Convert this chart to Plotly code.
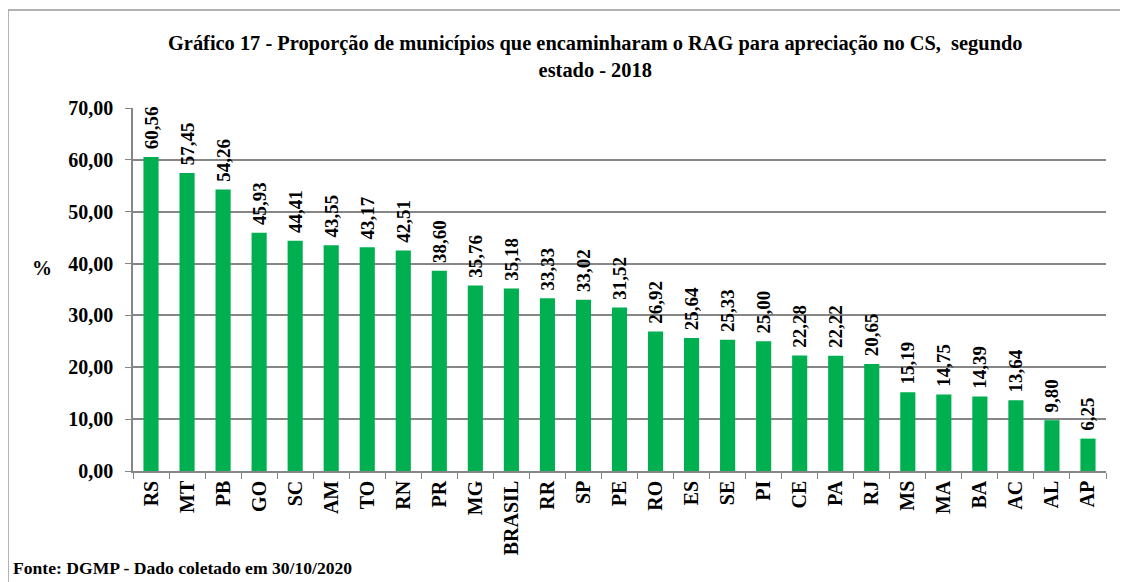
import plotly.graph_objects as go

estados = ["RS", "MT", "PB", "GO", "SC", "AM", "TO", "RN", "PR", "MG", "BRASIL",
           "RR", "SP", "PE", "RO", "ES", "SE", "PI", "CE", "PA", "RJ", "MS",
           "MA", "BA", "AC", "AL", "AP"]
proporcao = [60.56, 57.45, 54.26, 45.93, 44.41, 43.55, 43.17, 42.51, 38.60, 35.76, 35.18,
             33.33, 33.02, 31.52, 26.92, 25.64, 25.33, 25.00, 22.28, 22.22, 20.65, 15.19,
             14.75, 14.39, 13.64, 9.80, 6.25]
y_ticks = [0, 10, 20, 30, 40, 50, 60, 70]
y_labels = ["0,00", "10,00", "20,00", "30,00", "40,00", "50,00", "60,00", "70,00"]

serif = "Liberation Serif, Times New Roman, serif"
# a pagina tem margem de 8px no body, entao desconto isso
OFF = 8
W, H = 1128 - OFF, 582 - OFF
L, T = 133 - OFF, 108 - OFF
R = W - (1106 - OFF)
B = H - (471 - OFF)


def px(x):
    return (x - OFF - L) / (W - L - R)


def py(y):
    return (H - B - (y - OFF)) / (H - T - B)


fig = go.Figure()
fig.add_trace(go.Bar(x=estados, y=proporcao,
                     marker=dict(color="#00B050", line=dict(width=0)),
                     texttemplate="&nbsp;<b>%{y:.2f}</b>",
                     textposition="outside",
                     textangle=-90,
                     constraintext="none",
                     textfont=dict(family=serif, size=19, color="black"),
                     cliponaxis=False,
                     showlegend=False))

fig.update_layout(
    width=W, height=H,
    margin=dict(l=L, r=R, t=T, b=B, autoexpand=False),
    separators=",.",
    plot_bgcolor="white", paper_bgcolor="white",
    bargap=0.58,
    font=dict(family=serif, color="black"),
    xaxis=dict(tickangle=-90, tickfont=dict(family=serif, size=20, color="black"),
               tickvals=estados, ticktext=["<b>%s</b>" % e for e in estados],
               showline=True, linecolor="#868686", linewidth=1.5,
               ticks="outside", tickson="boundaries", ticklen=6, tickcolor="#868686"),
    yaxis=dict(range=[0, 70], tickvals=y_ticks, ticktext=["<b>%s</b>" % t for t in y_labels],
               tickfont=dict(family=serif, size=20, color="black"),
               ticklabelstandoff=8,
               showline=True, linecolor="#868686", linewidth=1.5,
               ticks="outside", ticklen=6, tickcolor="#868686",
               showgrid=True, gridcolor="#868686", gridwidth=1.5, zeroline=False),
)

fig.add_annotation(text="<b>Gráfico 17 - Proporção de municípios que encaminharam o RAG para apreciação no CS,  segundo<br>estado - 2018</b>",
                   xref="paper", yref="paper", x=px(595), y=py(56), xanchor="center", yanchor="middle",
                   showarrow=False, font=dict(family=serif, size=20.4, color="black"))
fig.add_annotation(text="<b>%</b>", xref="paper", yref="paper", x=px(30), y=py(268),
                   showarrow=False, font=dict(family=serif, size=20, color="black"))
fig.add_annotation(text="<b>Fonte: DGMP - Dado coletado em 30/10/2020</b>", xref="paper", yref="paper",
                   x=px(11), y=py(568), xanchor="left", yanchor="middle",
                   showarrow=False, font=dict(family=serif, size=17.6, color="black"))

# moldura do grafico (so esquerda e topo aparecem no recorte)
fig.add_shape(type="line", xref="paper", yref="paper", x0=px(8), x1=px(8), y0=py(10), y1=py(600),
              line=dict(color="#999999", width=1.5))
fig.add_shape(type="line", xref="paper", yref="paper", x0=px(8), x1=px(1140), y0=py(10), y1=py(10),
              line=dict(color="#999999", width=1.5))

fig.write_html("out.html")
